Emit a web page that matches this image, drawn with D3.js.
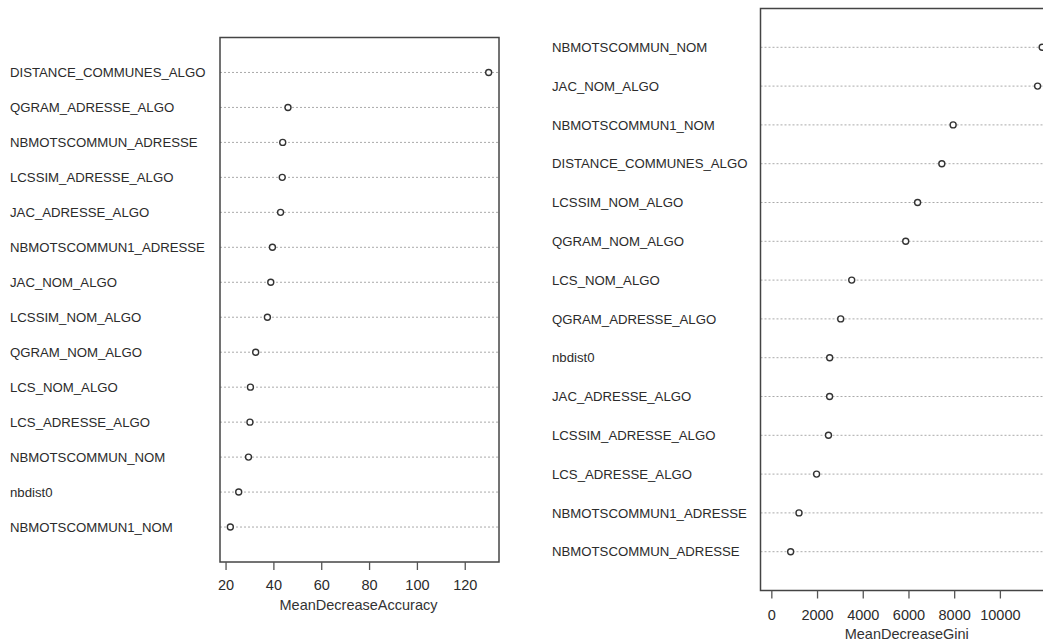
<!DOCTYPE html>
<html><head><meta charset="utf-8">
<script src="https://cdn.jsdelivr.net/npm/d3@7"></script>
<style>body{margin:0;background:#fff;} svg{display:block;font-family:"Liberation Sans",Arial,sans-serif;}</style>
</head><body>
<svg id="c" width="1043" height="644"></svg>
<script>
// Left panel: MeanDecreaseAccuracy (top to bottom)
const accVars = ["DISTANCE_COMMUNES_ALGO","QGRAM_ADRESSE_ALGO","NBMOTSCOMMUN_ADRESSE","LCSSIM_ADRESSE_ALGO","JAC_ADRESSE_ALGO","NBMOTSCOMMUN1_ADRESSE","JAC_NOM_ALGO","LCSSIM_NOM_ALGO","QGRAM_NOM_ALGO","LCS_NOM_ALGO","LCS_ADRESSE_ALGO","NBMOTSCOMMUN_NOM","nbdist0","NBMOTSCOMMUN1_NOM"];
const accVals = [130, 46.1, 43.9, 43.7, 43.0, 39.6, 38.9, 37.5, 32.6, 30.4, 30.2, 29.6, 25.5, 22.0];
const accTicks = [20, 40, 60, 80, 100, 120];

// Right panel: MeanDecreaseGini (top to bottom)
const giniVars = ["NBMOTSCOMMUN_NOM","JAC_NOM_ALGO","NBMOTSCOMMUN1_NOM","DISTANCE_COMMUNES_ALGO","LCSSIM_NOM_ALGO","QGRAM_NOM_ALGO","LCS_NOM_ALGO","QGRAM_ADRESSE_ALGO","nbdist0","JAC_ADRESSE_ALGO","LCSSIM_ADRESSE_ALGO","LCS_ADRESSE_ALGO","NBMOTSCOMMUN1_ADRESSE","NBMOTSCOMMUN_ADRESSE"];
const giniVals = [11850, 11650, 7955, 7460, 6400, 5880, 3517, 3035, 2553, 2550, 2500, 1980, 1210, 845];
const giniTicks = [0, 2000, 4000, 6000, 8000, 10000];

const svg = d3.select("#c");

function panel(cfg){
  const {vars, vals, ticks, xmin, box, labelX, title, tickY, titleY} = cfg;
  const lo = xmin, hi = d3.max(vals);
  const ext = (hi - lo) * 0.04;
  const x = d3.scaleLinear().domain([lo - ext, hi + ext]).range([box.x0, box.x1]);
  const n = vars.length;
  const y = d3.scaleLinear().domain([0, n + 1]).range([box.y0, box.y1]);
  const g = svg.append("g");
  // dotted guide lines
  g.selectAll("line.guide").data(vars).join("line")
    .attr("x1", box.x0).attr("x2", box.x1)
    .attr("y1", (d,i)=>y(i+1)).attr("y2", (d,i)=>y(i+1))
    .attr("stroke", "#aaa").attr("stroke-width", 1).attr("stroke-dasharray", "2,2");
  // labels
  g.selectAll("text.lab").data(vars).join("text")
    .attr("x", labelX).attr("y", (d,i)=>y(i+1)).attr("dy", "0.35em")
    .attr("font-size", 13.2).attr("fill", "#2b2b2b").text(d=>d);
  // points
  g.selectAll("circle").data(vals).join("circle")
    .attr("cx", d=>x(d)).attr("cy", (d,i)=>y(i+1)).attr("r", 3)
    .attr("fill", "#fff").attr("stroke", "#333").attr("stroke-width", 1.4);
  // box
  g.append("rect").attr("x", box.x0).attr("y", box.y0)
    .attr("width", box.x1 - box.x0).attr("height", box.y1 - box.y0)
    .attr("fill", "none").attr("stroke", "#444").attr("stroke-width", 1.5);
  // axis
  const ax = d3.axisBottom(x).tickValues(ticks).tickSize(8).tickPadding(6).tickFormat(d3.format("d"));
  const axg = g.append("g").attr("transform", `translate(0,${box.y1})`).call(ax);
  axg.select(".domain").remove();
  axg.selectAll(".tick line").attr("stroke", "#555").attr("stroke-width", 1.3);
  axg.selectAll(".tick text").attr("font-size", 14.5).attr("fill", "#2b2b2b")
    .attr("font-family", '"Liberation Sans",Arial,sans-serif').attr("y", tickY - box.y1).attr("dy", "0.35em");
  g.append("text").attr("x", (box.x0 + box.x1)/2 + (cfg.titleShift||0)).attr("y", titleY).attr("dy", "0.35em")
    .attr("text-anchor", "middle").attr("font-size", cfg.titleSize).attr("fill", "#333").text(title);
}

panel({vars: accVars, vals: accVals, ticks: accTicks, xmin: d3.min(accVals),
  box: {x0: 220, x1: 499, y0: 37.5, y1: 562}, labelX: 10,
  title: "MeanDecreaseAccuracy", tickY: 585, titleY: 605, titleSize: 14.5, titleShift: -1});

panel({vars: giniVars, vals: giniVals, ticks: giniTicks, xmin: 0,
  box: {x0: 760.5, x1: 1053, y0: 8.5, y1: 590.5}, labelX: 552,
  title: "MeanDecreaseGini", tickY: 615, titleY: 634, titleSize: 14.5, titleShift: 0});
</script>
</body></html>
